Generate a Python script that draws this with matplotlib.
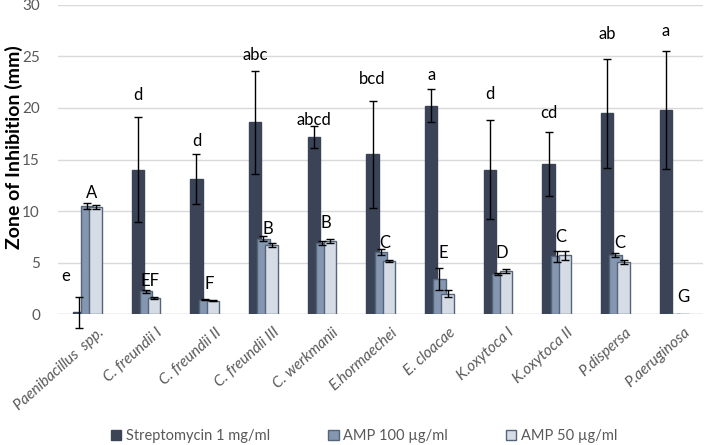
"""
Zone of inhibition per isolate: streptomycin vs two AMP doses,
grouped bars with SD error bars and significance letters.
"""

import numpy as np
import matplotlib
matplotlib.use("Agg")
import matplotlib.pyplot as plt
from matplotlib.transforms import ScaledTranslation

# ---------------------------------------------------------------------------
# Data
# ---------------------------------------------------------------------------
ISOLATES = ["Paenibacillus  spp.", "C. freundii I", "C. freundii II", "C. freundii III",
            "C. werkmanii", "E.hormaechei", "E. cloacae", "K.oxytoca I",
            "K.oxytoca II", "P.dispersa", "P.aeruginosa"]

SERIES = ["Streptomycin 1 mg/ml", "AMP 100 \u00b5g/ml", "AMP 50 \u00b5g/ml"]

strep = [0.2, 14.0, 13.1, 18.6, 17.2, 15.5, 20.2, 14.0, 14.6, 19.5, 19.8]
strep_err = [1.5, 5.1, 2.4, 5.0, 1.1, 5.2, 1.6, 4.8, 3.1, 5.3, 5.7]

amp100 = [10.5, 2.2, 1.4, 7.3, 6.9, 6.0, 3.4, 3.9, 5.6, 5.7, 0.0]
amp100_err = [0.25, 0.1, 0.05, 0.25, 0.2, 0.3, 1.1, 0.08, 0.5, 0.2, 0.0]

amp50 = [10.4, 1.6, 1.3, 6.7, 7.1, 5.2, 2.0, 4.2, 5.7, 5.1, 0.0]
amp50_err = [0.2, 0.08, 0.05, 0.2, 0.2, 0.1, 0.3, 0.2, 0.4, 0.2, 0.0]

# significance letters (lowercase: streptomycin, uppercase: AMP)
lower_letters = ["e", "d", "d", "abc", "abcd", "bcd", "a", "d", "cd", "ab", "a"]
lower_y = [3.7, 21.3, 16.8, 25.1, 18.8, 22.8, 23.2, 21.4, 19.5, 27.2, 27.5]
upper_letters = ["A", "EF", "F", "B", "B", "C", "E", "D", "C", "C", "G"]
upper_y = [11.8, 3.2, 2.9, 8.3, 8.8, 6.9, 5.9, 5.9, 7.5, 6.9, 1.7]

# ---------------------------------------------------------------------------
# Style
# ---------------------------------------------------------------------------
plt.rcParams["font.family"] = ["Lato", "DejaVu Sans"]

COLORS = ["#3A4456", "#8496B0", "#D6DCE5"]
EDGES = ["#3A4456", "#56647A", "#56647A"]
TICK_GRAY = "#595959"

fig = plt.figure(figsize=(7.07, 4.45), dpi=100)
ax = fig.add_axes([0.082, 0.294, 0.913, 0.695])

x = np.arange(len(ISOLATES))
width = 0.21
step = 0.14

values = [strep, amp100, amp50]
errors = [strep_err, amp100_err, amp50_err]

handles = []
for i, (vals, errs) in enumerate(zip(values, errors)):
    pos = x + (i - 1) * step
    h = ax.bar(pos, vals, width=width, color=COLORS[i], edgecolor=EDGES[i],
               linewidth=1.0, zorder=2 + i, label=SERIES[i])
    handles.append(h)
    errs = np.array(errs)
    mask = errs > 0
    eb = ax.errorbar(pos[mask], np.array(vals)[mask], yerr=errs[mask], fmt="none",
                     ecolor="black", elinewidth=1.0, capsize=3, capthick=1.0,
                     zorder=6)
    # let the Paenibacillus error bar dip below zero like the original
    for art in eb.lines[1] + eb.lines[2]:
        art.set_clip_on(False)

# letters
for i in range(len(ISOLATES)):
    lx = x[i] - step
    if i == 0:
        lx = x[i] - 0.37
    ax.text(lx, lower_y[i], lower_letters[i], ha="center", va="center",
            fontsize=12, color="black", zorder=7)
    ux = x[i] + 0.07
    if i == len(ISOLATES) - 1:
        ux = x[i] + 0.15
    ax.text(ux, upper_y[i], upper_letters[i], ha="center", va="center",
            fontsize=12, color="black", zorder=7)

# axes
ax.set_xlim(-0.5, len(ISOLATES) - 0.5)
ax.set_ylim(0, 30)
ax.set_yticks(range(0, 31, 5))
ax.yaxis.grid(True, color="#D9D9D9", linewidth=1.0, zorder=0)
ax.set_axisbelow(True)
for side in ["top", "right", "left", "bottom"]:
    ax.spines[side].set_visible(False)
ax.axhline(0, color="#D9D9D9", linewidth=1.0, zorder=1)

ax.tick_params(axis="both", length=0, colors=TICK_GRAY, labelsize=11)
ax.tick_params(axis="y", pad=13)
ax.tick_params(axis="x", pad=8)
ax.set_xticks(x)
ax.set_xticklabels(ISOLATES, rotation=42, ha="right", rotation_mode="anchor",
                   fontstyle="italic", fontsize=11, color=TICK_GRAY)
shift = ScaledTranslation(7 / 72, 0, fig.dpi_scale_trans)
for lbl in ax.get_xticklabels():
    lbl.set_transform(lbl.get_transform() + shift)
ax.set_ylabel("Zone of Inhibition (mm)", fontsize=14, fontweight="bold",
              color="black")
ax.yaxis.set_label_coords(-0.054, 0.54)

fig.legend(handles=handles, labels=SERIES, loc="lower center",
           bbox_to_anchor=(0.515, -0.025), ncol=3, frameon=False,
           fontsize=10.5, handlelength=0.7, handleheight=0.7,
           columnspacing=4.0, handletextpad=0.3, labelcolor=TICK_GRAY)

fig.savefig("out.png", dpi=100)
